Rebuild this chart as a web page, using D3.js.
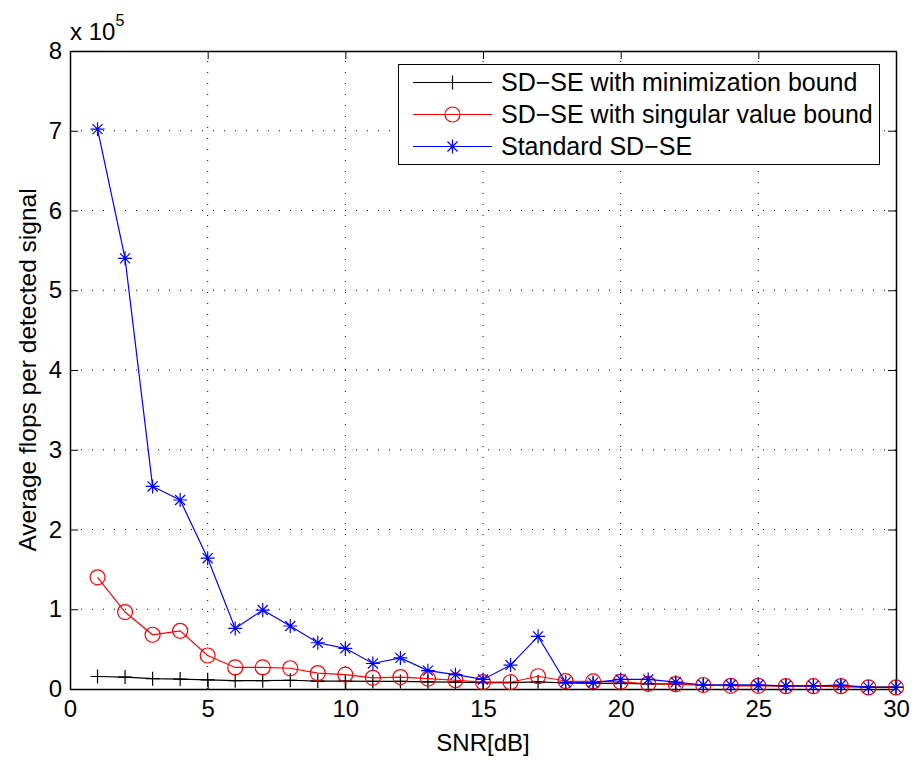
<!DOCTYPE html>
<html>
<head>
<meta charset="utf-8">
<script src="https://cdn.jsdelivr.net/npm/d3@7"></script>
<style>
  body { margin: 0; background: #fff; }
  svg text { font-family: "Liberation Sans", Arial, sans-serif; fill: #000; }
</style>
</head>
<body>
<div id="chart"></div>
<script>
const snr = d3.range(1, 31)
// values in units of 1e5 flops
const minBound = [0.157, 0.15, 0.13, 0.125, 0.115, 0.105, 0.105, 0.11, 0.10, 0.10,
  0.095, 0.095, 0.09, 0.085, 0.08, 0.08, 0.09, 0.075, 0.07, 0.07,
  0.065, 0.06, 0.05, 0.05, 0.045, 0.04, 0.035, 0.03, 0.025, 0.025]
const svBound = [1.40, 0.965, 0.68, 0.73, 0.42, 0.27, 0.27, 0.26, 0.20, 0.18,
  0.14, 0.15, 0.13, 0.11, 0.085, 0.085, 0.16, 0.10, 0.095, 0.09,
  0.065, 0.06, 0.05, 0.04, 0.04, 0.035, 0.035, 0.035, 0.02, 0.02]
const standard = [7.02, 5.40, 2.54, 2.37, 1.64, 0.76, 0.99, 0.79, 0.58, 0.51,
  0.32, 0.39, 0.23, 0.18, 0.12, 0.30, 0.66, 0.085, 0.08, 0.12,
  0.12, 0.085, 0.05, 0.05, 0.05, 0.04, 0.04, 0.05, 0.02, 0.02]
const xTicks = [0, 5, 10, 15, 20, 25, 30]
const yTicks = [0, 1, 2, 3, 4, 5, 6, 7, 8]

const series = [
  { name: 'SD\u2212SE with minimization bound', values: minBound, color: '#000', marker: 'plus' },
  { name: 'SD\u2212SE with singular value bound', values: svBound, color: '#ff0000', marker: 'circle' },
  { name: 'Standard SD\u2212SE', values: standard, color: '#0000ff', marker: 'star' }
]

const width = 914, height = 760
const margin = ({ top: 51, right: 18, bottom: 71, left: 70 })

const svg = d3.select('#chart').append('svg')
  .attr('width', width).attr('height', height)

const x = d3.scaleLinear().domain([0, 30]).range([margin.left, width - margin.right])
const y = d3.scaleLinear().domain([0, 8]).range([height - margin.bottom, margin.top])

// grid
const grid = svg.append('g')
  .attr('stroke', '#000').attr('stroke-width', 1)
  .attr('stroke-dasharray', '1,10')
grid.selectAll('.gx').data(xTicks.slice(1, -1)).join('line')
  .attr('x1', d => x(d)).attr('x2', d => x(d))
  .attr('y1', y(0)).attr('y2', y(8))
grid.selectAll('.gy').data(yTicks.slice(1, -1)).join('line')
  .attr('x1', x(0)).attr('x2', x(30))
  .attr('y1', d => y(d)).attr('y2', d => y(d))

// axes, ticks inward on all sides
const tick = 8
const xAxis = g => g
  .attr('transform', `translate(0,${y(0)})`)
  .call(d3.axisBottom(x).tickValues(xTicks).tickSizeInner(-tick).tickSizeOuter(0).tickPadding(11))
const yAxis = g => g
  .attr('transform', `translate(${x(0)},0)`)
  .call(d3.axisLeft(y).tickValues(yTicks).tickSizeInner(-tick).tickSizeOuter(0).tickPadding(8))
const xTop = g => g
  .attr('transform', `translate(0,${y(8)})`)
  .call(d3.axisTop(x).tickValues(xTicks).tickSizeInner(-tick).tickSizeOuter(0).tickFormat(''))
const yRight = g => g
  .attr('transform', `translate(${x(30)},0)`)
  .call(d3.axisRight(y).tickValues(yTicks).tickSizeInner(-tick).tickSizeOuter(0).tickFormat(''))

for (const ax of [xAxis, yAxis, xTop, yRight]) {
  const g = svg.append('g').call(ax)
  g.select('.domain').attr('stroke-width', 1.5)
  g.selectAll('.tick line').attr('stroke-width', 1)
  g.selectAll('.tick text').attr('font-size', 24).attr('font-family', '"Liberation Sans", Arial, sans-serif')
}

// lines
const line = d3.line()
  .x((d, i) => x(snr[i]))
  .y(d => y(d))

const markerPath = (type, cx, cy) => {
  if (type === 'plus') {
    const s = 7
    return `M${cx - s},${cy}H${cx + s}M${cx},${cy - s}V${cy + s}`
  }
  if (type === 'star') {
    const s = 7, d = s * 0.72
    return `M${cx - s},${cy}H${cx + s}M${cx},${cy - s}V${cy + s}` +
      `M${cx - d},${cy - d}L${cx + d},${cy + d}M${cx - d},${cy + d}L${cx + d},${cy - d}`
  }
  return null
}

const drawMarkers = (g, s, pts) => {
  if (s.marker === 'circle') {
    g.selectAll('circle').data(pts).join('circle')
      .attr('cx', d => d[0]).attr('cy', d => d[1]).attr('r', 7.5)
      .attr('fill', 'none').attr('stroke', s.color).attr('stroke-width', 1.2)
  } else {
    g.selectAll('path.mk').data(pts).join('path').attr('class', 'mk')
      .attr('d', d => markerPath(s.marker, d[0], d[1]))
      .attr('fill', 'none').attr('stroke', s.color).attr('stroke-width', 1.2)
  }
}

series.forEach(s => {
  const g = svg.append('g')
  g.append('path').datum(s.values)
    .attr('fill', 'none').attr('stroke', s.color).attr('stroke-width', 1.2)
    .attr('d', line)
  drawMarkers(g, s, s.values.map((v, i) => [x(snr[i]), y(v)]))
})

// exponent label
const expo = svg.append('text').attr('x', 70).attr('y', 40).attr('font-size', 24)
expo.append('tspan').text('x 10')
expo.append('tspan').attr('dy', -14).attr('font-size', 16).text('5')

// axis titles
svg.append('text')
  .attr('x', (x(0) + x(30)) / 2).attr('y', 751)
  .attr('text-anchor', 'middle').attr('font-size', 24)
  .text('SNR[dB]')
svg.append('text')
  .attr('transform', `translate(36,${(y(0) + y(8)) / 2}) rotate(-90)`)
  .attr('text-anchor', 'middle').attr('font-size', 24.5)
  .text('Average flops per detected signal')

// legend
const lg = svg.append('g')
lg.append('rect').attr('x', 398.5).attr('y', 64.5).attr('width', 481).attr('height', 100)
  .attr('fill', '#fff').attr('stroke', '#000').attr('stroke-width', 1)
series.forEach((s, i) => {
  const cy = 82.5 + i * 32
  lg.append('line').attr('x1', 413).attr('x2', 492).attr('y1', cy).attr('y2', cy)
    .attr('stroke', s.color).attr('stroke-width', 1.2)
  drawMarkers(lg.append('g'), s, [[452.5, cy]])
  lg.append('text').attr('x', 501).attr('y', cy + 8.5).attr('font-size', 25).text(s.name)
})
</script>
</body>
</html>
